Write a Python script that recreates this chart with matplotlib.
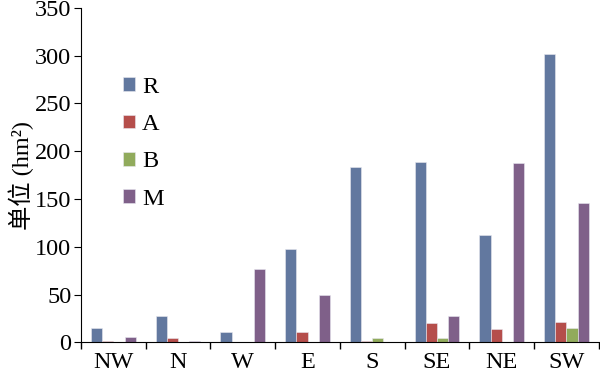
import numpy as np
import matplotlib
matplotlib.use("Agg")
import matplotlib.pyplot as plt
from matplotlib.ticker import FixedLocator

plt.rcParams['font.family'] = ['Liberation Serif', 'Noto Sans CJK SC']

# 数据
categories = ['NW', 'N', 'W', 'E', 'S', 'SE', 'NE', 'SW']
R = [15, 28, 11, 98, 184, 189, 112, 302]
A = [2, 5, 0, 11, 2, 20, 14, 21]
B = [0, 0, 0, 0, 5, 5, 0, 15]
M = [6, 2, 77, 50, 0, 28, 188, 146]
series_names = ['R', 'A', 'B', 'M']
colors = ['#62789F', '#B54E4B', '#91AB5C', '#7F6089']

fig = plt.figure(figsize=(6, 3.73), dpi=100)
ax = fig.add_axes([0.135, 0.082, 0.863, 0.897])

x = np.arange(len(categories))
w = 0.173
for i, (vals, name) in enumerate(zip([R, A, B, M], series_names)):
    ax.bar(x + (i - 1.5) * w, vals, width=w, color=colors[i], label=name,
           edgecolor='#e8e8f0', linewidth=0.4)

ax.set_xlim(-0.5, len(categories) - 0.5)
ax.set_ylim(0, 350)
ax.set_yticks(range(0, 351, 50))
ax.set_xticks(x)
ax.set_xticklabels(categories)
ax.xaxis.set_minor_locator(FixedLocator(np.arange(-0.5, len(categories), 1)))
ax.tick_params(axis='x', which='major', length=0, labelsize=17.5, pad=7)
ax.tick_params(axis='x', which='minor', length=5, direction='out', width=1)
ax.tick_params(axis='y', length=5, direction='out', labelsize=17.5, pad=2)

ax.spines['top'].set_visible(False)
ax.spines['right'].set_visible(False)
ax.set_ylabel('单位 (hm²)', fontsize=17.5, labelpad=0.5)

ax.legend(loc='upper left', bbox_to_anchor=(0.057, 0.83), frameon=False,
          fontsize=17.5, handlelength=0.5, handleheight=0.5, handletextpad=0.3,
          labelspacing=0.67, borderpad=0)

plt.savefig('out.png', dpi=100)
